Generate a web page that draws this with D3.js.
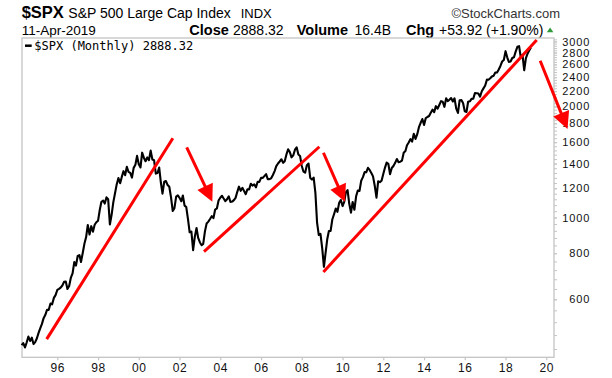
<!DOCTYPE html>
<html><head><meta charset="utf-8">
<script src="https://cdn.jsdelivr.net/npm/d3@7"></script>
<style>body{margin:0;background:#fff}svg{display:block}</style>
</head><body>
<svg id="c" width="612" height="378"></svg>
<script>
// ---------- data ----------
const firstMonth = { year: 1994, month: 3 }; // April 1994 (0-based month)
const closes = [
  450.91, 456.50, 444.27, 458.26, 475.49, 462.69, 472.35, 453.69, 459.27,
  470.42, 487.39, 500.71, 514.71, 533.40, 544.75, 562.06, 561.88, 584.41, 581.50, 605.37, 615.93,
  636.02, 640.43, 645.50, 654.17, 669.12, 670.63, 639.95, 651.99, 687.33, 705.27, 757.02, 740.74,
  786.16, 790.82, 757.12, 801.34, 848.28, 885.14, 954.29, 899.47, 947.28, 914.62, 955.40, 970.43,
  980.28, 1049.34, 1101.75, 1111.75, 1090.82, 1133.84, 1120.67, 957.28, 1017.01, 1098.67, 1163.63, 1229.23,
  1279.64, 1238.33, 1286.37, 1335.18, 1301.84, 1372.71, 1328.72, 1320.41, 1282.71, 1362.93, 1388.91, 1469.25,
  1394.46, 1366.42, 1498.58, 1452.43, 1420.60, 1454.60, 1430.83, 1517.68, 1436.51, 1429.40, 1314.95, 1320.28,
  1366.01, 1239.94, 1160.33, 1249.46, 1255.82, 1224.38, 1211.23, 1133.58, 1040.94, 1059.78, 1139.45, 1148.08,
  1130.20, 1106.73, 1147.39, 1076.92, 1067.14, 989.82, 911.62, 916.07, 815.28, 885.76, 936.31, 879.82,
  855.70, 841.15, 848.18, 916.92, 963.59, 974.50, 990.31, 1008.01, 995.97, 1050.71, 1058.20, 1111.92,
  1131.13, 1144.94, 1126.21, 1107.30, 1120.68, 1140.84, 1101.72, 1104.24, 1114.58, 1130.20, 1173.82, 1211.92,
  1181.27, 1203.60, 1180.59, 1156.85, 1191.50, 1191.33, 1234.18, 1220.33, 1228.81, 1207.01, 1249.48, 1248.29,
  1280.08, 1280.66, 1294.83, 1310.61, 1270.09, 1270.20, 1276.66, 1303.82, 1335.85, 1377.94, 1400.63, 1418.30,
  1438.24, 1406.82, 1420.86, 1482.37, 1530.62, 1503.35, 1455.27, 1473.99, 1526.75, 1549.38, 1481.14, 1468.36,
  1378.55, 1330.63, 1322.70, 1385.59, 1400.38, 1280.00, 1267.38, 1282.83, 1166.36, 968.75, 896.24, 903.25,
  825.88, 735.09, 797.87, 872.81, 919.14, 919.32, 987.48, 1020.62, 1057.08, 1036.19, 1095.63, 1115.10,
  1073.87, 1104.49, 1169.43, 1186.69, 1089.41, 1030.71, 1101.60, 1049.33, 1141.20, 1183.26, 1180.55, 1257.64,
  1286.12, 1327.22, 1325.83, 1363.61, 1345.20, 1320.64, 1292.28, 1218.89, 1131.42, 1253.30, 1246.96, 1257.60,
  1312.41, 1365.68, 1408.47, 1397.91, 1310.33, 1362.16, 1379.32, 1406.58, 1440.67, 1412.16, 1416.18, 1426.19,
  1498.11, 1514.68, 1569.19, 1597.57, 1630.74, 1606.28, 1685.73, 1632.97, 1681.55, 1756.54, 1805.81, 1848.36,
  1782.59, 1859.45, 1872.34, 1883.95, 1923.57, 1960.23, 1930.67, 2003.37, 1972.29, 2018.05, 2067.56, 2058.90,
  1994.99, 2104.50, 2067.89, 2085.51, 2107.39, 2063.11, 2103.84, 1972.18, 1920.03, 2079.36, 2080.41, 2043.94,
  1940.24, 1932.23, 2059.74, 2065.30, 2096.95, 2098.86, 2173.60, 2170.95, 2168.27, 2126.15, 2198.81, 2238.83,
  2278.87, 2363.64, 2362.72, 2384.20, 2411.80, 2423.41, 2470.30, 2471.65, 2519.36, 2575.26, 2647.58, 2673.61,
  2823.81, 2713.83, 2640.87, 2648.05, 2705.27, 2718.37, 2816.29, 2901.52, 2913.98, 2711.74, 2760.17, 2506.85,
  2704.10, 2784.49, 2834.40, 2888.32
];
const xTickYears = [1996, 1998, 2000, 2002, 2004, 2006, 2008, 2010, 2012, 2014, 2016, 2018, 2020];
const yTickValues = [600, 800, 1000, 1200, 1400, 1600, 1800, 2000, 2200, 2400, 2600, 2800, 3000];
const yMinorStep = 40;
// trend lines and arrows: [decimal year, price]
const trendLines = [
  [[1995.48, 468], [2001.67, 1639]],
  [[2003.20, 808], [2008.86, 1555]],
  [[2009.06, 712], [2019.53, 3027]]
];
const arrows = [
  [[2002.35, 1550], [2003.61, 1103]],
  [[2009.06, 1498], [2010.12, 1103]],
  [[2019.70, 2661], [2021.04, 1737]]
];

// ---------- layout ----------
const P = { left: 22, right: 554, top: 38, bottom: 357.3 };
const FONT = "'Liberation Sans', Arial, sans-serif";
const svg = d3.select("#c");

const yearToDate = y => {
  const yr = Math.floor(y);
  const start = new Date(yr, 0, 1), end = new Date(yr + 1, 0, 1);
  return new Date(+start + (y - yr) * (end - start));
};
const x = d3.scaleTime()
  .domain([yearToDate(1994.267), yearToDate(2020.378)])
  .range([P.left, P.right]);
const y = d3.scaleLog()
  .domain([417.8, 3065.8])
  .range([P.bottom, P.top]);

const series = closes.map((v, i) => ({ date: new Date(firstMonth.year, firstMonth.month + i, 1), value: v }));

// header
const hdr = svg.append("g").attr("font-family", FONT).attr("fill", "#000");
hdr.append("text").attr("x", 21.7).attr("y", 18.3).attr("font-size", 16.5).attr("font-weight", "bold").text("$SPX");
hdr.append("text").attr("x", 68.3).attr("y", 18.3).attr("font-size", 14).text("S&P 500 Large Cap Index");
hdr.append("text").attr("x", 240.7).attr("y", 18.3).attr("font-size", 13).text("INDX");
hdr.append("text").attr("x", 560).attr("y", 18.3).attr("font-size", 13).attr("text-anchor", "end").attr("fill", "#333").text("\u00A9StockCharts.com");
hdr.append("text").attr("x", 21.7).attr("y", 35).attr("font-size", 13.5).text("11-Apr-2019");
const l2 = [
  ["Close", 189.3, true, "start"], ["2888.32", 233, false, "start"],
  ["Volume", 296.7, true, "start"], ["16.4B", 354.5, false, "start"],
  ["Chg", 406, true, "start"], ["+53.92 (+1.90%)", 543.3, false, "end"]
];
l2.forEach(([t, xx, b, anc]) => hdr.append("text").attr("x", xx).attr("y", 35).attr("text-anchor", anc)
  .attr("font-size", b ? 14.5 : 14).attr("font-weight", b ? "bold" : "normal").text(t));
svg.append("path").attr("d", "M546.8,32.2L553.4,32.2L550.1,27.6Z").attr("fill", "#2f9a3a");

// plot frame
svg.append("rect").attr("x", P.left).attr("y", P.top).attr("width", P.right - P.left).attr("height", P.bottom - P.top)
  .attr("fill", "#fff").attr("stroke", "#c4c4c4").attr("stroke-width", 1.3);

// x axis
const xAxis = d3.axisBottom(x)
  .tickValues(xTickYears.map(yr => new Date(yr, 0, 1)))
  .tickFormat(d3.timeFormat("%y")).tickSize(3).tickPadding(3);
const gx = svg.append("g").attr("transform", `translate(0,${P.bottom})`).call(xAxis);
gx.select(".domain").remove();
gx.selectAll("line").attr("stroke", "#c4c4c4").attr("stroke-width", 1.2);
gx.selectAll("text").attr("font-family", FONT).attr("font-size", 12).attr("letter-spacing", 0.6).attr("fill", "#111");

// y axis (right)
const minor = d3.range(440, 3041, yMinorStep);
const gmin = svg.append("g").attr("transform", `translate(${P.right},0)`)
  .call(d3.axisRight(y).tickValues(minor).tickFormat("").tickSize(3));
gmin.select(".domain").remove();
gmin.selectAll("line").attr("stroke", "#c4c4c4").attr("stroke-width", 1);
const gy = svg.append("g").attr("transform", `translate(${P.right},0)`)
  .call(d3.axisRight(y).tickValues(yTickValues).tickFormat(d3.format("d")).tickSize(3));
gy.select(".domain").remove();
gy.selectAll("line").attr("stroke", "#c4c4c4");
gy.selectAll("text").attr("font-family", FONT).attr("font-size", 11).attr("letter-spacing", 0.9).attr("fill", "#111")
  .attr("text-anchor", "end").attr("x", 590.3 - P.right);

// price line
svg.append("path").datum(series)
  .attr("d", d3.line().x(d => x(d.date)).y(d => y(d.value)))
  .attr("fill", "none").attr("stroke", "#000").attr("stroke-width", 2.1).attr("stroke-linejoin", "round");

// legend
svg.append("line").attr("x1", 25).attr("x2", 31.7).attr("y1", 45.7).attr("y2", 45.7).attr("stroke", "#000").attr("stroke-width", 2.5);
svg.append("text").attr("x", 34.3).attr("y", 50).attr("font-family", "'DejaVu Sans Mono', monospace")
  .attr("font-size", 12).attr("fill", "#000").text("$SPX (Monthly) 2888.32");

// annotations
const red = "#ff0000";
trendLines.forEach(([a, b]) => svg.append("line")
  .attr("x1", x(yearToDate(a[0]))).attr("y1", y(a[1]))
  .attr("x2", x(yearToDate(b[0]))).attr("y2", y(b[1]))
  .attr("stroke", red).attr("stroke-width", 3));
arrows.forEach(([a, b]) => {
  const x1 = x(yearToDate(a[0])), y1 = y(a[1]), x2 = x(yearToDate(b[0])), y2 = y(b[1]);
  const dx = x2 - x1, dy = y2 - y1, L = Math.hypot(dx, dy), ux = dx / L, uy = dy / L;
  const hl = 17, hw = 8.5;
  const bx = x2 - ux * hl, by = y2 - uy * hl;
  svg.append("line").attr("x1", x1).attr("y1", y1).attr("x2", bx + ux * 2).attr("y2", by + uy * 2)
    .attr("stroke", red).attr("stroke-width", 3);
  svg.append("path").attr("d", `M${x2},${y2}L${bx - uy * hw},${by + ux * hw}L${bx + uy * hw},${by - ux * hw}Z`)
    .attr("fill", red);
});
</script>
</body></html>
